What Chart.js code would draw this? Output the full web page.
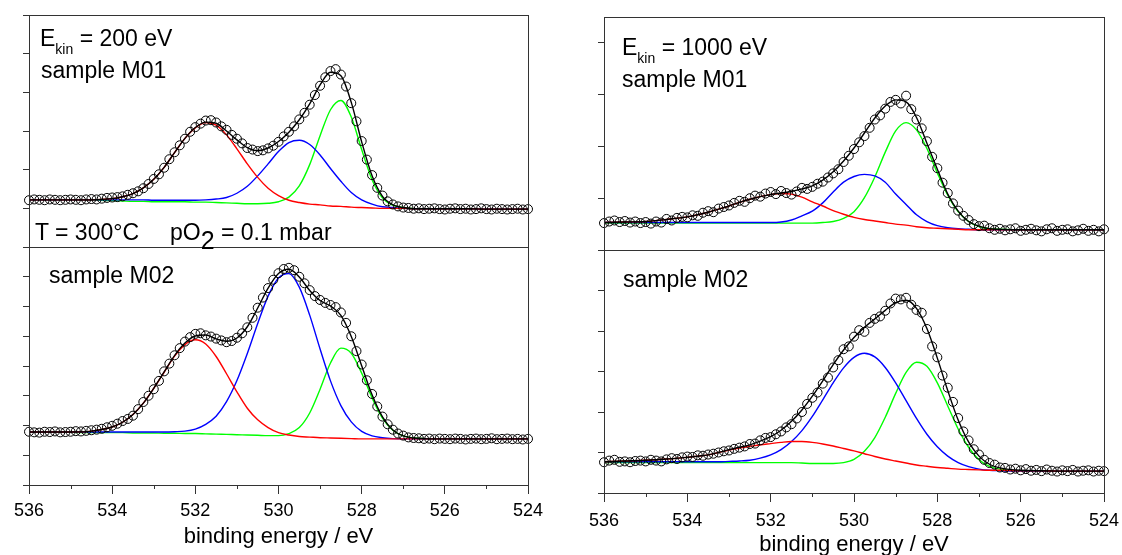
<!DOCTYPE html>
<html>
<head>
<meta charset="utf-8">
<script src="https://cdn.jsdelivr.net/npm/chart.js@4.4.1/dist/chart.umd.min.js"></script>
<style>
  html, body { margin: 0; padding: 0; background: #fff; overflow: hidden; }
  #wrap { position: relative; width: 1122px; height: 555px; overflow: hidden; }
  canvas { position: absolute; left: 0; top: 0; }
  .note { position: absolute; font: 23px/23px 'Liberation Sans', Arial, sans-serif; color: #000; white-space: nowrap; }
  .sub { font-size: 14px; line-height: 0; position: relative; top: 8px; }
  .low { font-size: 25px; line-height: 0; position: relative; top: 9px; }
</style>
</head>
<body>
<div id="wrap">
  <canvas id="m01e200" width="1160" height="560"></canvas>
  <canvas id="m02e200" width="1160" height="560"></canvas>
  <canvas id="m01e1000" width="1160" height="560"></canvas>
  <canvas id="m02e1000" width="1160" height="560"></canvas>

  <div class="note" style="left:40px;top:27px">E<span class="sub">kin</span> = 200 eV</div>
  <div class="note" style="left:41px;top:59px">sample M01</div>
  <div class="note" style="left:35px;top:221px">T = 300°C</div>
  <div class="note" style="left:170px;top:221px">pO<span class="low">2</span> = 0.1 mbar</div>
  <div class="note" style="left:49px;top:264px">sample M02</div>

  <div class="note" style="left:622px;top:36px">E<span class="sub">kin</span> = 1000 eV</div>
  <div class="note" style="left:622px;top:68px">sample M01</div>
  <div class="note" style="left:623px;top:268px">sample M02</div>
</div>
<script>
// binding energies of the measured points (eV)
const dataE = [536, 535.875, 535.75, 535.625, 535.5, 535.375, 535.25, 535.125, 535, 534.875,
  534.75, 534.625, 534.5, 534.375, 534.25, 534.125, 534, 533.875, 533.75, 533.625,
  533.5, 533.375, 533.25, 533.125, 533, 532.875, 532.75, 532.625, 532.5, 532.375,
  532.25, 532.125, 532, 531.875, 531.75, 531.625, 531.5, 531.375, 531.25, 531.125,
  531, 530.875, 530.75, 530.625, 530.5, 530.375, 530.25, 530.125, 530, 529.875,
  529.75, 529.625, 529.5, 529.375, 529.25, 529.125, 529, 528.875, 528.75, 528.625,
  528.5, 528.375, 528.25, 528.125, 528, 527.875, 527.75, 527.625, 527.5, 527.375,
  527.25, 527.125, 527, 526.875, 526.75, 526.625, 526.5, 526.375, 526.25, 526.125,
  526, 525.875, 525.75, 525.625, 525.5, 525.375, 525.25, 525.125, 525, 524.875,
  524.75, 524.625, 524.5, 524.375, 524.25, 524.125, 524];

// binding energies where the fit and component curves were read
const curveE = [536, 535.5, 535, 534.5, 534, 533.75, 533.5, 533.25, 533, 532.75,
  532.5, 532.25, 532, 531.75, 531.5, 531.25, 531, 530.75, 530.5, 530.25,
  530, 529.75, 529.5, 529.25, 529, 528.75, 528.5, 528.25, 528, 527.75,
  527.5, 527.25, 527, 526.75, 526.5, 526, 525.5, 525, 524.5, 524];

const xMajorTicks = [536, 534, 532, 530, 528, 526, 524];
const xMinorTicks = [535, 533, 531, 529, 527, 525];

// E_kin = 200 eV, sample M01
const m01e200Ticks = [0, 1, 2, 3, 4, 5, 6];
const m01e200Points = [1.21,1.23,1.22,1.21,1.23,1.22,1.21,1.22,1.23,1.22,
  1.21,1.23,1.24,1.23,1.25,1.27,1.28,1.29,1.31,1.35,
  1.39,1.44,1.52,1.63,1.76,1.88,2.05,2.27,2.45,2.63,
  2.80,2.98,3.10,3.19,3.27,3.28,3.22,3.12,3.03,2.90,
  2.80,2.68,2.56,2.52,2.48,2.50,2.55,2.62,2.72,2.86,
  2.98,3.12,3.30,3.47,3.68,3.93,4.17,4.39,4.55,4.60,
  4.46,4.15,3.72,3.25,2.74,2.26,1.86,1.53,1.33,1.18,
  1.10,1.05,1.02,1.01,0.99,1.00,0.98,0.99,1.00,0.98,
  0.97,0.99,1.00,0.98,0.99,0.97,0.98,1.00,0.98,0.97,
  0.99,0.98,0.97,0.98,0.99,0.97,0.98];
const m01e200Fit = [1.22,1.22,1.22,1.22,1.25,1.30,1.38,1.53,1.75,2.06,
  2.44,2.81,3.09,3.23,3.20,3.00,2.77,2.57,2.49,2.56,
  2.73,2.97,3.29,3.70,4.19,4.52,4.43,3.74,2.72,1.84,
  1.31,1.09,1.02,0.99,0.99,0.99,0.99,0.98,0.98,0.98];
const m01e200Red = [1.22,1.22,1.22,1.22,1.25,1.30,1.38,1.53,1.75,2.06,
  2.44,2.81,3.08,3.22,3.15,2.90,2.54,2.15,1.80,1.52,
  1.33,1.21,1.15,1.11,1.09,1.06,1.05,1.03,1.02,1.01,
  1.00,1.00,1.00,0.99,0.99,0.99,0.99,0.98,0.98,0.98];
const m01e200Blue = [1.22,1.22,1.22,1.22,1.22,1.22,1.22,1.22,1.21,1.21,
  1.21,1.21,1.21,1.22,1.24,1.28,1.39,1.57,1.84,2.15,
  2.47,2.70,2.76,2.65,2.38,2.03,1.70,1.41,1.22,1.11,
  1.04,1.02,1.00,0.99,0.99,0.99,0.99,0.98,0.98,0.98];
const m01e200Green = [1.22,1.22,1.22,1.21,1.20,1.19,1.18,1.18,1.17,1.17,
  1.17,1.17,1.16,1.16,1.15,1.14,1.13,1.12,1.12,1.13,
  1.17,1.29,1.58,2.13,2.88,3.55,3.79,3.36,2.52,1.74,
  1.27,1.08,1.02,0.99,0.99,0.99,0.99,0.98,0.98,0.98];

// E_kin = 200 eV, sample M02
const m02e200Ticks = [0, 1, 2, 3, 4, 5, 6, 7, 8];
const m02e200Points = [1.79,1.77,1.76,1.79,1.78,1.80,1.77,1.78,1.79,1.81,
  1.80,1.82,1.84,1.86,1.89,1.94,1.99,2.06,2.15,2.22,
  2.33,2.55,2.79,3.00,3.22,3.50,3.82,4.08,4.36,4.60,
  4.82,4.97,5.08,5.10,5.03,4.99,4.92,4.86,4.80,4.84,
  4.95,5.10,5.30,5.62,5.96,6.30,6.62,6.90,7.12,7.26,
  7.30,7.22,7.00,6.78,6.55,6.35,6.22,6.12,6.05,5.98,
  5.80,5.45,5.00,4.50,4.05,3.52,3.06,2.64,2.30,2.04,
  1.86,1.73,1.66,1.60,1.58,1.57,1.55,1.56,1.54,1.56,
  1.55,1.54,1.56,1.55,1.53,1.55,1.56,1.54,1.55,1.57,
  1.54,1.55,1.56,1.54,1.55,1.53,1.55];
const m02e200Fit = [1.78,1.78,1.78,1.81,1.95,2.11,2.37,2.75,3.25,3.80,
  4.35,4.77,5.01,5.04,4.91,4.83,4.94,5.32,5.95,6.62,
  7.11,7.25,6.99,6.54,6.20,6.02,5.70,4.99,4.01,3.03,
  2.29,1.85,1.65,1.58,1.56,1.55,1.55,1.55,1.55,1.55];
const m02e200Red = [1.78,1.78,1.78,1.81,1.95,2.11,2.37,2.75,3.25,3.79,
  4.33,4.72,4.88,4.74,4.32,3.74,3.13,2.58,2.19,1.93,
  1.76,1.68,1.63,1.61,1.59,1.58,1.57,1.56,1.55,1.55,
  1.55,1.55,1.55,1.55,1.55,1.55,1.55,1.55,1.55,1.55];
const m02e200Blue = [1.78,1.78,1.78,1.78,1.78,1.78,1.78,1.78,1.78,1.78,
  1.79,1.81,1.88,2.04,2.31,2.80,3.51,4.42,5.43,6.35,
  6.96,7.11,6.65,5.71,4.57,3.50,2.67,2.12,1.80,1.65,
  1.59,1.56,1.55,1.55,1.55,1.55,1.55,1.55,1.55,1.55];
const m02e200Green = [1.77,1.77,1.77,1.76,1.76,1.76,1.75,1.75,1.75,1.74,
  1.74,1.73,1.73,1.72,1.71,1.70,1.69,1.68,1.67,1.66,
  1.66,1.73,1.93,2.42,3.22,4.10,4.60,4.43,3.76,2.93,
  2.25,1.84,1.65,1.58,1.56,1.55,1.55,1.55,1.55,1.55];

// E_kin = 1000 eV, sample M01
const m01e1000Ticks = [0, 1, 2, 3, 4];
const m01e1000Points = [0.52,0.55,0.57,0.54,0.56,0.53,0.55,0.52,0.54,0.51,
  0.55,0.53,0.60,0.57,0.62,0.64,0.63,0.67,0.66,0.72,
  0.75,0.73,0.80,0.83,0.86,0.91,0.95,0.93,1.00,1.05,
  1.03,1.09,1.12,1.08,1.14,1.10,1.07,1.13,1.20,1.18,
  1.22,1.28,1.32,1.40,1.48,1.56,1.70,1.82,1.95,2.08,
  2.20,2.36,2.52,2.60,2.73,2.86,2.90,2.83,2.98,2.72,
  2.52,2.35,2.10,1.80,1.58,1.30,1.10,0.90,0.76,0.66,
  0.58,0.50,0.46,0.47,0.42,0.39,0.41,0.38,0.40,0.42,
  0.37,0.39,0.41,0.38,0.36,0.40,0.42,0.37,0.39,0.40,
  0.36,0.38,0.41,0.37,0.39,0.36,0.40];
const m01e1000Fit = [0.53,0.54,0.55,0.59,0.64,0.68,0.73,0.79,0.85,0.92,
  0.98,1.03,1.07,1.10,1.13,1.18,1.24,1.35,1.51,1.72,
  1.97,2.26,2.55,2.78,2.90,2.86,2.56,2.06,1.56,1.08,
  0.75,0.55,0.46,0.41,0.40,0.39,0.39,0.39,0.39,0.39];
const m01e1000Red = [0.53,0.54,0.55,0.59,0.64,0.68,0.73,0.79,0.85,0.92,
  0.98,1.03,1.07,1.09,1.08,1.02,0.93,0.85,0.76,0.69,
  0.63,0.59,0.56,0.53,0.50,0.48,0.45,0.43,0.42,0.41,
  0.40,0.39,0.39,0.39,0.39,0.39,0.39,0.39,0.39,0.39];
const m01e1000Blue = [0.53,0.53,0.53,0.53,0.53,0.53,0.53,0.53,0.53,0.53,
  0.53,0.53,0.53,0.54,0.58,0.66,0.75,0.91,1.12,1.31,
  1.42,1.46,1.43,1.31,1.08,0.88,0.68,0.55,0.47,0.43,
  0.41,0.40,0.39,0.39,0.39,0.39,0.39,0.39,0.39,0.39];
const m01e1000Green = [0.52,0.52,0.52,0.52,0.52,0.52,0.52,0.52,0.52,0.52,
  0.52,0.52,0.52,0.52,0.52,0.52,0.52,0.53,0.55,0.61,
  0.74,1.01,1.41,1.89,2.30,2.46,2.32,1.96,1.49,1.06,
  0.74,0.55,0.45,0.41,0.40,0.39,0.39,0.39,0.39,0.39];

// E_kin = 1000 eV, sample M02
const m02e1000Ticks = [0, 1, 2, 3, 4, 5, 6];
const m02e1000Points = [0.76,0.80,0.82,0.77,0.78,0.76,0.79,0.80,0.78,0.82,
  0.80,0.78,0.83,0.86,0.84,0.88,0.90,0.89,0.93,0.92,
  0.95,0.97,1.00,1.03,1.05,1.09,1.12,1.15,1.21,1.22,
  1.30,1.36,1.38,1.45,1.52,1.62,1.70,1.84,2.00,2.20,
  2.35,2.48,2.70,2.85,3.10,3.28,3.55,3.62,3.86,4.02,
  3.98,4.20,4.30,4.36,4.50,4.68,4.80,4.78,4.82,4.65,
  4.52,4.45,4.05,3.62,3.35,2.90,2.60,2.25,1.85,1.52,
  1.30,1.08,0.95,0.82,0.74,0.70,0.63,0.62,0.58,0.60,
  0.56,0.59,0.55,0.57,0.54,0.58,0.55,0.53,0.56,0.54,
  0.57,0.53,0.55,0.56,0.53,0.55,0.54];
const m02e1000Fit = [0.77,0.79,0.81,0.84,0.88,0.91,0.94,1.00,1.07,1.13,
  1.19,1.28,1.39,1.55,1.77,2.05,2.39,2.77,3.17,3.53,
  3.84,4.09,4.30,4.51,4.70,4.76,4.56,4.06,3.33,2.53,
  1.80,1.26,0.91,0.71,0.62,0.56,0.55,0.54,0.54,0.54];
const m02e1000Red = [0.77,0.79,0.81,0.84,0.88,0.91,0.94,1.00,1.06,1.11,
  1.15,1.19,1.22,1.25,1.27,1.27,1.25,1.21,1.16,1.10,
  1.04,0.97,0.90,0.84,0.79,0.74,0.69,0.66,0.63,0.61,
  0.59,0.58,0.57,0.56,0.56,0.55,0.55,0.54,0.54,0.54];
const m02e1000Blue = [0.77,0.77,0.77,0.77,0.77,0.77,0.77,0.77,0.78,0.79,
  0.81,0.86,0.94,1.07,1.27,1.54,1.89,2.30,2.72,3.09,
  3.35,3.45,3.36,3.10,2.72,2.28,1.84,1.45,1.14,0.91,
  0.75,0.65,0.59,0.56,0.55,0.54,0.54,0.54,0.54,0.54];
const m02e1000Green = [0.75,0.75,0.75,0.75,0.75,0.75,0.75,0.75,0.75,0.75,
  0.75,0.75,0.75,0.75,0.75,0.74,0.73,0.73,0.73,0.75,
  0.83,1.03,1.37,1.87,2.46,2.98,3.23,3.13,2.72,2.15,
  1.58,1.13,0.82,0.66,0.59,0.54,0.54,0.54,0.54,0.54];

Chart.defaults.font.family = "'Liberation Sans', Arial, sans-serif";
Chart.defaults.color = '#000';

const frameColor = '#333';
const canvasW = 1160;

// box around each plot area
const framePlugin = {
  id: 'frame',
  afterDraw(chart) {
    const { ctx, chartArea: a } = chart;
    ctx.save();
    ctx.strokeStyle = frameColor;
    ctx.lineWidth = 1;
    ctx.strokeRect(Math.round(a.left) + 0.5, Math.round(a.top) + 0.5,
      Math.round(a.right - a.left), Math.round(a.bottom - a.top));
    ctx.restore();
  }
};

// short ticks at the odd energies
const minorTickPlugin = {
  id: 'minorTicks',
  afterDraw(chart, args, opts) {
    if (!opts.show) return;
    const { ctx, chartArea: a } = chart;
    const xs = chart.scales.x;
    ctx.save();
    ctx.strokeStyle = frameColor;
    ctx.lineWidth = 1;
    ctx.beginPath();
    xMinorTicks.forEach(v => {
      const p = Math.round(xs.getPixelForValue(v)) + 0.5;
      ctx.moveTo(p, a.bottom);
      ctx.lineTo(p, a.bottom + 4);
    });
    ctx.stroke();
    ctx.restore();
  }
};

function makePanel(id, cfg) {
  const points = dataE.map((e, i) => ({ x: e, y: cfg.points[i] }));
  const curve = (vals, color) => ({
    data: curveE.map((e, i) => ({ x: e, y: vals[i] })),
    showLine: true,
    borderColor: color,
    borderWidth: 1.4,
    pointRadius: 0,
    cubicInterpolationMode: 'monotone'
  });

  return new Chart(document.getElementById(id), {
    type: 'scatter',
    data: {
      datasets: [
        { data: points, pointRadius: 4.5, pointBorderWidth: 1, pointBorderColor: '#000',
          pointBackgroundColor: 'rgba(0,0,0,0)', clip: false },
        curve(cfg.fit, '#000000'),
        curve(cfg.red, '#ff0000'),
        curve(cfg.blue, '#0000ff'),
        curve(cfg.green, '#00ff00')
      ]
    },
    options: {
      responsive: false,
      animation: false,
      events: [],
      layout: { padding: { left: cfg.left, right: canvasW - cfg.right, top: cfg.top, bottom: cfg.bottomPad } },
      plugins: {
        legend: { display: false },
        tooltip: { enabled: false },
        minorTicks: { show: cfg.xAxis }
      },
      scales: {
        x: {
          type: 'linear', min: 524, max: 536, reverse: true,
          display: cfg.xAxis,
          afterBuildTicks: s => { s.ticks = xMajorTicks.map(v => ({ value: v })); },
          afterFit: s => { s.height = cfg.xHeight; },
          grid: { drawOnChartArea: false, drawTicks: true, tickLength: 9, color: frameColor },
          border: { display: false },
          ticks: { font: { size: 18 }, padding: cfg.tickPad, maxRotation: 0, autoSkip: false, color: '#000' },
          title: { display: true, text: 'binding energy / eV', color: '#000',
            font: { size: 22, lineHeight: 1 }, padding: { top: 0, bottom: 0 } }
        },
        y: {
          type: 'linear', min: 0, max: cfg.yMax,
          afterBuildTicks: s => { s.ticks = cfg.yTicks.map(v => ({ value: v })); },
          afterFit: s => { s.width = 0; },
          grid: { drawOnChartArea: false, drawTicks: true, tickLength: 6, color: frameColor },
          border: { display: false },
          ticks: { display: false }
        }
      }
    },
    plugins: [framePlugin, minorTickPlugin]
  });
}

makePanel('m01e200', {
  points: m01e200Points, fit: m01e200Fit, red: m01e200Red, blue: m01e200Blue, green: m01e200Green,
  yMax: 6, yTicks: m01e200Ticks, xAxis: false, xHeight: 0, tickPad: 6,
  left: 29, right: 528, top: 15, bottomPad: 560 - 247
});
makePanel('m02e200', {
  points: m02e200Points, fit: m02e200Fit, red: m02e200Red, blue: m02e200Blue, green: m02e200Green,
  yMax: 8, yTicks: m02e200Ticks, xAxis: true, xHeight: 62.5, tickPad: 6,
  left: 29, right: 528, top: 247, bottomPad: 12.5
});
makePanel('m01e1000', {
  points: m01e1000Points, fit: m01e1000Fit, red: m01e1000Red, blue: m01e1000Blue, green: m01e1000Green,
  yMax: 4.5, yTicks: m01e1000Ticks, xAxis: false, xHeight: 0, tickPad: 8,
  left: 604, right: 1104, top: 17, bottomPad: 560 - 250
});
makePanel('m02e1000', {
  points: m02e1000Points, fit: m02e1000Fit, red: m02e1000Red, blue: m02e1000Blue, green: m02e1000Green,
  yMax: 6, yTicks: m02e1000Ticks, xAxis: true, xHeight: 63, tickPad: 8,
  left: 604, right: 1104, top: 250, bottomPad: 4
});
</script>
</body>
</html>
